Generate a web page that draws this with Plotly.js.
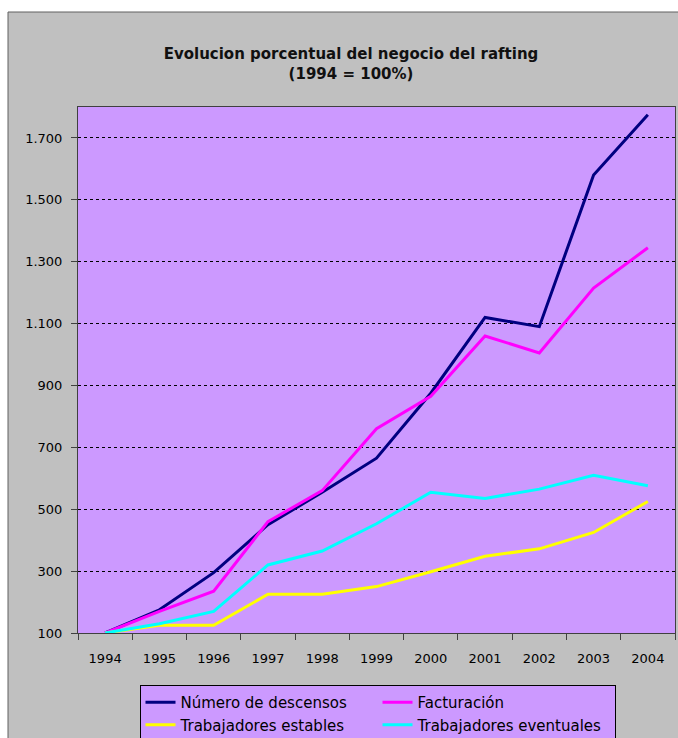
<!DOCTYPE html>
<html>
<head>
<meta charset="utf-8">
<script src="https://cdn.plot.ly/plotly-3.0.1.min.js"></script>
<style>html,body{margin:0;padding:0;background:#fff;}</style>
</head>
<body>
<div id="chart" style="width:678px;height:738px;"></div>
<script>
var years = ['1994','1995','1996','1997','1998','1999','2000','2001','2002','2003','2004'];
var descensos   = [100, 175, 295, 450, 555, 665, 875, 1120, 1090, 1580, 1775];
var facturacion = [100, 170, 235, 460, 560, 760, 865, 1060, 1005, 1215, 1345];
var estables    = [100, 125, 125, 225, 225, 250, 298, 348, 372, 425, 525];
var eventuales  = [100, 130, 170, 320, 365, 453, 555, 535, 565, 610, 576];
var yTicks = [100, 300, 500, 700, 900, 1100, 1300, 1500, 1700];

var names = ['Número de descensos', 'Facturación', 'Trabajadores estables', 'Trabajadores eventuales'];
var colors = ['#000080', '#FF00FF', '#FFFF00', '#00FFFF'];
var series = [descensos, facturacion, estables, eventuales];

var traces = series.map(function(s, i) {
  return {x: years, y: s, type: 'scatter', mode: 'lines', name: names[i],
          line: {color: colors[i], width: 3}};
});

var L = 78, R = 675, T = 107, B = 633;
function px(x) { return (x - L) / (R - L); }
function py(y) { return (B - y) / (B - T); }

var layout = {
  width: 678, height: 738,
  margin: {l: L, r: 678 - R, t: T, b: 738 - B, pad: 0, autoexpand: false},
  paper_bgcolor: '#C0C0C0',
  plot_bgcolor: '#CC99FF',
  separators: ',.',
  showlegend: true,
  font: {family: 'DejaVu Sans', size: 13, color: '#000'},
  title: {
    text: 'Evolucion porcentual del negocio del rafting<br>(1994 = 100%)',
    font: {family: 'DejaVu Sans', size: 15, color: '#111', weight: 'bold'},
    xref: 'container', x: 351 / 678, xanchor: 'center',
    yref: 'container', y: 1 - 59 / 738, yanchor: 'top'
  },
  xaxis: {
    type: 'category', range: [-0.5, 10.5], fixedrange: true,
    showgrid: false, zeroline: false,
    showline: true, linecolor: '#404040', linewidth: 1, mirror: true,
    ticks: 'outside', ticklen: 6, tickcolor: '#404040', tickson: 'boundaries',
    tickfont: {family: 'DejaVu Sans', size: 13, color: '#000'},
    ticklabelstandoff: 13
  },
  yaxis: {
    range: [100, 1800], fixedrange: true,
    tickvals: yTicks, tickformat: ',d', separatethousands: true,
    showgrid: true, gridcolor: '#000', gridwidth: 1, griddash: '3px,3px',
    zeroline: false,
    showline: true, linecolor: '#404040', linewidth: 1, mirror: true,
    ticks: 'outside', ticklen: 6, tickcolor: '#404040',
    tickfont: {family: 'DejaVu Sans', size: 13, color: '#000'},
    ticklabelstandoff: 6
  },
  legend: {
    orientation: 'h', traceorder: 'normal',
    x: px(139.5), xanchor: 'left', y: py(685), yanchor: 'top',
    bgcolor: '#CC99FF', bordercolor: '#000', borderwidth: 1,
    font: {family: 'DejaVu Sans', size: 15, color: '#000'},
    entrywidth: 192, entrywidthmode: 'pixels'
  },
  shapes: [
    {type: 'rect', xref: 'paper', yref: 'paper', x0: -0.3, x1: 1.3, y0: py(12), y1: 1.4,
     fillcolor: '#FFFFFF', line: {width: 0}},
    {type: 'rect', xref: 'paper', yref: 'paper', x0: -0.3, x1: px(8), y0: -0.4, y1: 1.4,
     fillcolor: '#FFFFFF', line: {width: 0}},
    {type: 'line', xref: 'paper', yref: 'paper', x0: px(8), x1: 1.3, y0: py(12), y1: py(12),
     line: {color: '#606060', width: 1}},
    {type: 'line', xref: 'paper', yref: 'paper', x0: px(8), x1: px(8), y0: -0.4, y1: py(12),
     line: {color: '#606060', width: 1}}
  ]
};

Plotly.newPlot('chart', traces, layout, {displayModeBar: false, staticPlot: true});
</script>
</body>
</html>
